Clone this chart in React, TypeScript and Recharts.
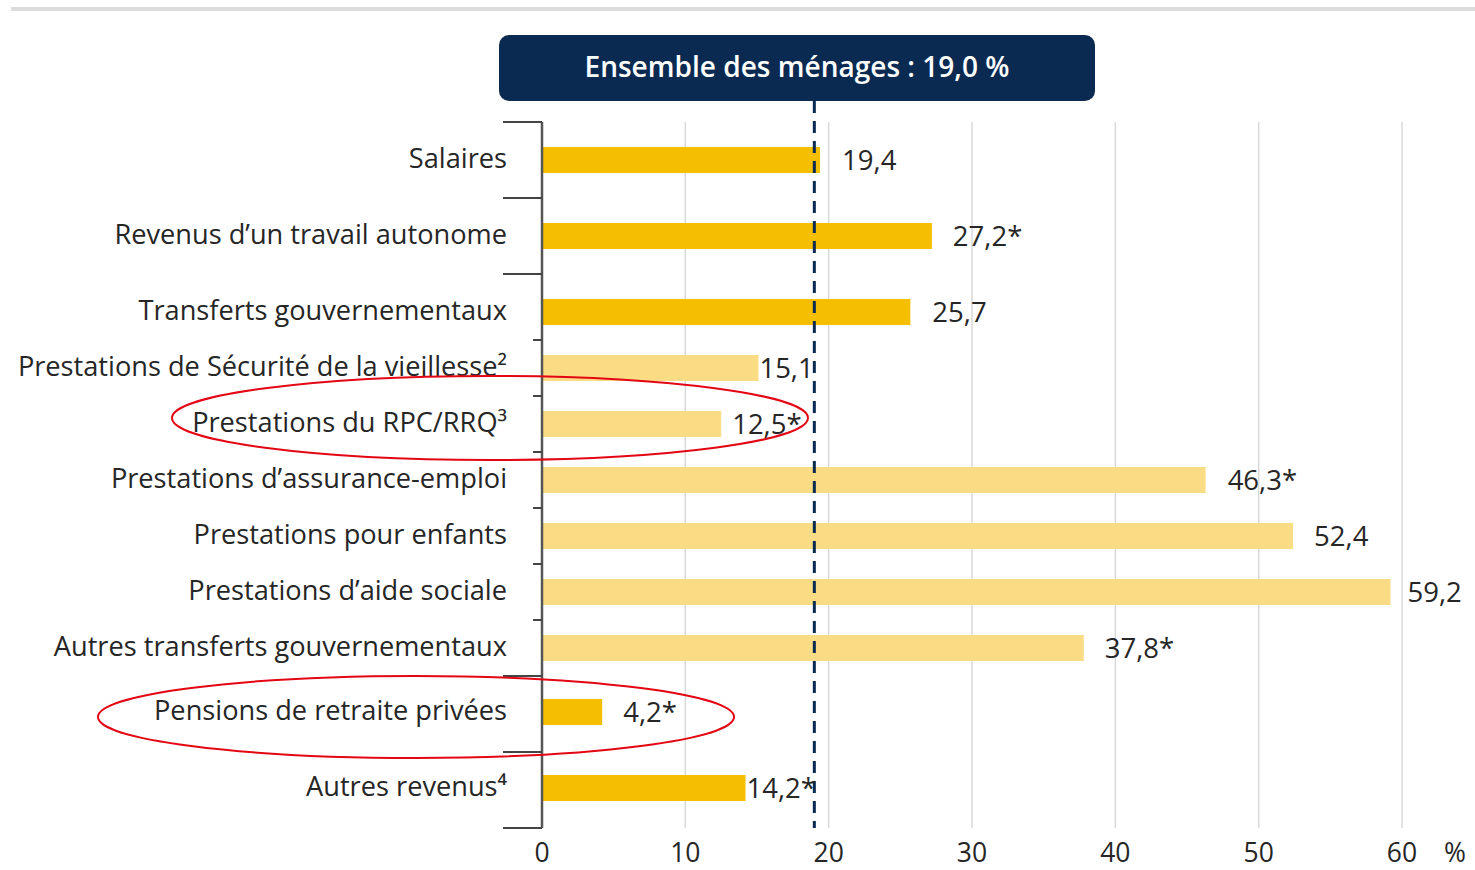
import React from "react";
import { BarChart, Bar, XAxis, YAxis, CartesianGrid, ReferenceLine, Cell, LabelList } from "recharts";

// ---- data ----
const categories = [
  "Salaires",
  "Revenus d’un travail autonome",
  "Transferts gouvernementaux",
  "Prestations de Sécurité de la vieillesse²",
  "Prestations du RPC/RRQ³",
  "Prestations d’assurance-emploi",
  "Prestations pour enfants",
  "Prestations d’aide sociale",
  "Autres transferts gouvernementaux",
  "Pensions de retraite privées",
  "Autres revenus⁴",
];
const values = [19.4, 27.2, 25.7, 15.1, 12.5, 46.3, 52.4, 59.2, 37.8, 4.2, 14.2];
const valueLabels = ["19,4", "27,2*", "25,7", "15,1", "12,5*", "46,3*", "52,4", "59,2", "37,8*", "4,2*", "14,2*"];
const isSubItem = [false, false, false, true, true, true, true, true, true, false, false];
const overallRate = 19.0;
const overallLabel = "Ensemble des ménages : 19,0 %";
const xTicks = [0, 10, 20, 30, 40, 50, 60];
const xTickLabels = ["0", "10", "20", "30", "40", "50", "60"];

// ---- layout (row slots along the category axis, in px-like units) ----
const rowSlots = [0, 76, 152, 208, 264, 320, 376, 432, 488, 552, 628];
const majorBoundaries = [-38, 38, 114, 516, 592, 668];
const minorBoundaries = [180, 236, 292, 348, 404, 460];
const labelGaps = [22, 21, 22, 1, 11, 22, 21, 17, 21, 21, 1];

const MAIN = "#F5BF00";
const SUB = "#F9DC83";
const NAVY = "#0A2A52";
const FONT = "'Open Sans', sans-serif";
const TEXT = "#262626";
const FS = 27.2;
const FS_VAL = 27.5;
const FS_TICK = 26.5;

const rows = categories.map((c, i) => ({
  name: c,
  value: values[i],
  label: valueLabels[i],
  sub: isSubItem[i],
  pos: rowSlots[i],
}));

const allTicks = [...rowSlots, ...majorBoundaries, ...minorBoundaries];

const YTick = (props: any) => {
  const { y, payload } = props;
  const v = payload.value;
  const axisX = 542;
  const idx = rowSlots.indexOf(v);
  if (idx >= 0) {
    return (
      <text x={507} y={y - 3} textAnchor="end" dominantBaseline="central" fontFamily={FONT} fontSize={FS} fill={TEXT}>
        {categories[idx]}
      </text>
    );
  }
  if (majorBoundaries.includes(v)) {
    return <line x1={503} x2={axisX} y1={y} y2={y} stroke="#444" strokeWidth={2} />;
  }
  return <line x1={533} x2={axisX} y1={y} y2={y} stroke="#444" strokeWidth={2} />;
};

const XTick = (props: any) => {
  const { x, payload } = props;
  const i = xTicks.indexOf(payload.value);
  return (
    <text x={x} y={852} textAnchor="middle" dominantBaseline="central" fontFamily={FONT} fontSize={FS_TICK} fill={TEXT}>
      {xTickLabels[i]}
    </text>
  );
};

const ValueLabel = (props: any) => {
  const { x, y, width, height, index } = props;
  return (
    <text
      x={x + width + labelGaps[index]}
      y={y + height / 2 - 1}
      textAnchor="start"
      dominantBaseline="central"
      fontFamily={FONT}
      fontSize={FS_VAL}
      fill={TEXT}
    >
      {valueLabels[index]}
    </text>
  );
};

export default function App() {
  return (
    <div style={{ position: "absolute", left: 0, top: 0, width: 1475, height: 870, background: "#fff" }}>
      <BarChart
        width={1475}
        height={870}
        data={rows}
        layout="vertical"
        margin={{ top: 122, right: 73, bottom: 0, left: 0 }}
      >
        <CartesianGrid horizontal={false} vertical={true} stroke="#d9d9d9" strokeWidth={1.5} verticalValues={[10, 20, 30, 40, 50, 60]} />
        <XAxis
          type="number"
          domain={[0, 60]}
          ticks={xTicks}
          axisLine={false}
          tickLine={false}
          height={42}
          tick={<XTick />}
          interval={0}
        />
        <YAxis
          type="number"
          dataKey="pos"
          domain={[-38, 668]}
          ticks={allTicks}
          interval={0}
          width={542}
          axisLine={{ stroke: "#555", strokeWidth: 2.5 }}
          tickLine={false}
          tick={<YTick />}
          allowDataOverflow
        />
        <Bar dataKey="value" barSize={26} isAnimationActive={false}>
          {rows.map((r, i) => (
            <Cell key={i} fill={r.sub ? SUB : MAIN} />
          ))}
          <LabelList dataKey="label" content={<ValueLabel />} />
        </Bar>
        <ReferenceLine
          segment={[{ x: overallRate, y: -59 }, { x: overallRate, y: 668 }]}
          stroke={NAVY}
          strokeWidth={3}
          strokeDasharray="12 8"
          ifOverflow="visible"
        />
      </BarChart>
      <svg width={1475} height={870} style={{ position: "absolute", left: 0, top: 0, pointerEvents: "none" }}>
        <line x1={11} x2={1475} y1={9} y2={9} stroke="#dcdcdc" strokeWidth={4} />
        <rect x={499} y={35} width={596} height={66} rx={10} ry={10} fill={NAVY} />
        <text
          x={797}
          y={66}
          textAnchor="middle"
          dominantBaseline="central"
          fontFamily={FONT}
          fontWeight={600}
          fontSize={28}
          fill="#fff"
          textLength={425}
          lengthAdjust="spacingAndGlyphs"
        >
          {overallLabel}
        </text>
        <text x={1455} y={852} textAnchor="middle" dominantBaseline="central" fontFamily={FONT} fontSize={FS_TICK} fill={TEXT}>
          %
        </text>
        <ellipse cx={490} cy={418} rx={318} ry={42} fill="none" stroke="#E30613" strokeWidth={2} />
        <ellipse cx={416} cy={717} rx={318} ry={41} fill="none" stroke="#E30613" strokeWidth={2} />
      </svg>
    </div>
  );
}
